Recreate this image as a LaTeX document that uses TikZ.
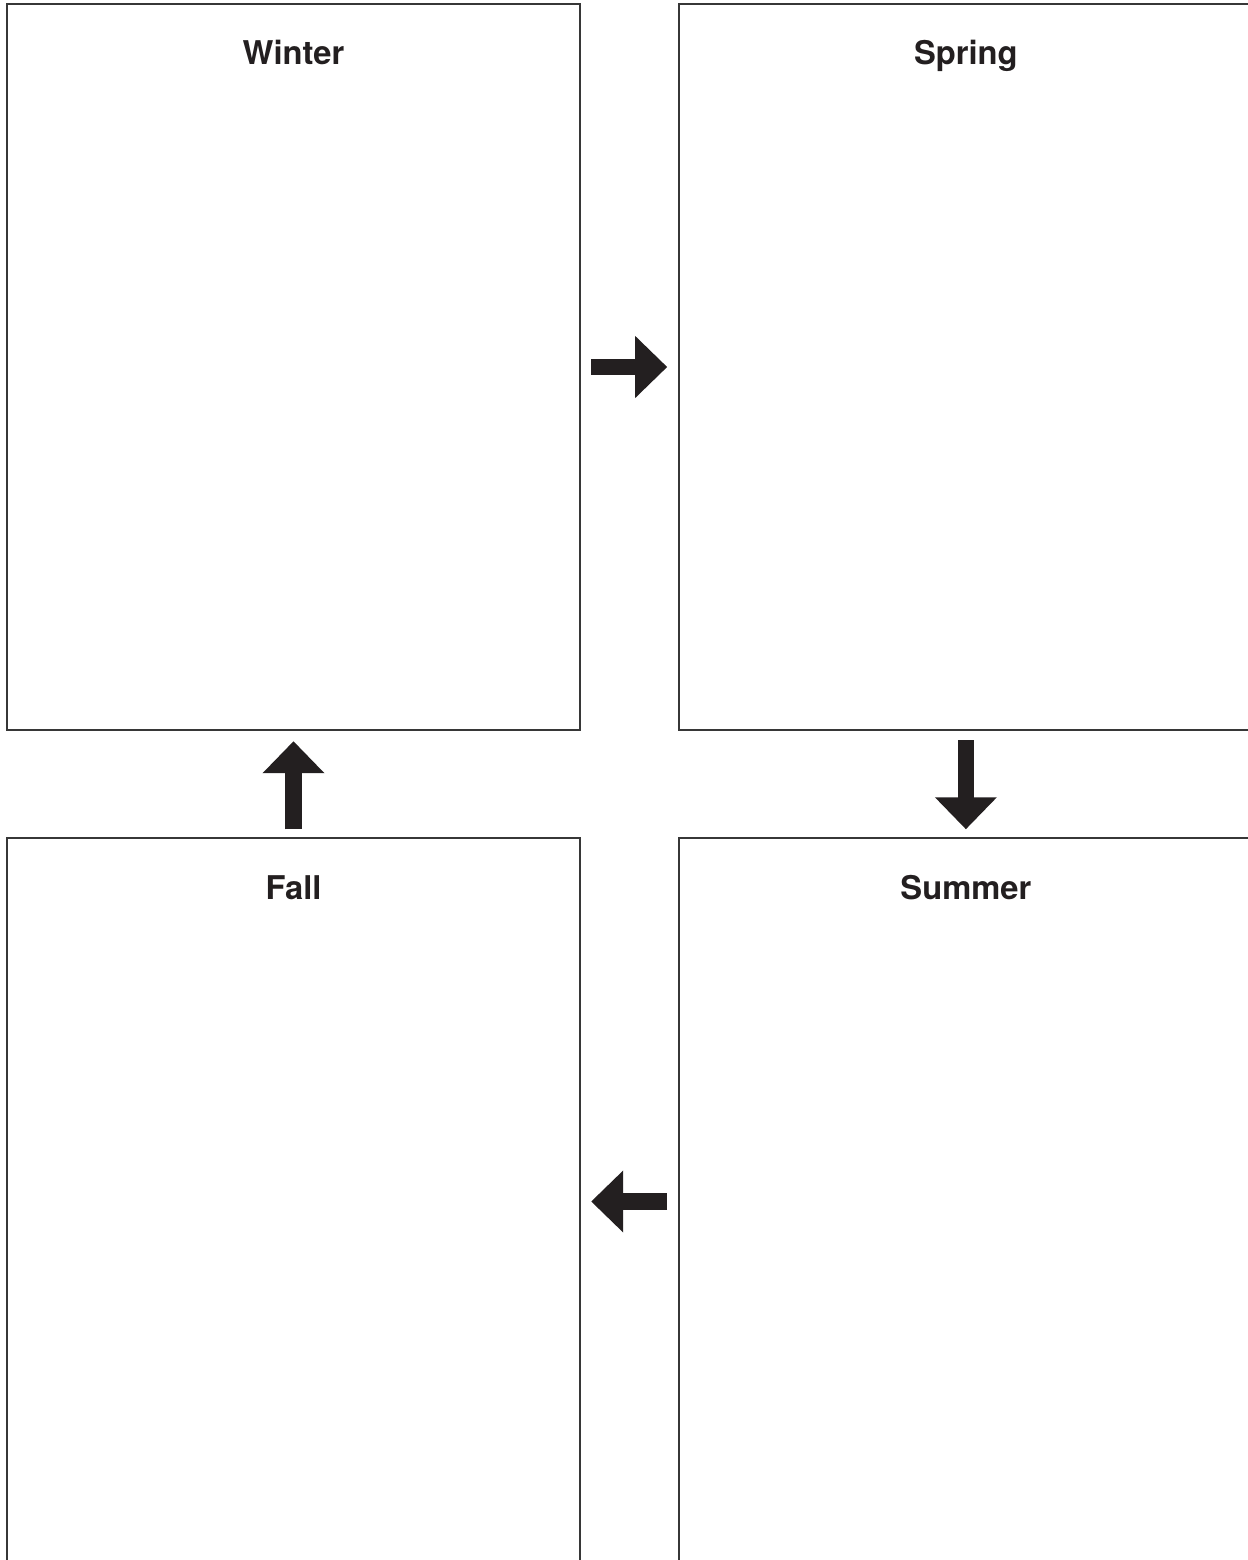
\documentclass[tikz,border=0pt]{standalone}
\usepackage{fontspec}
\setmainfont{TeX Gyre Heros}
\usetikzlibrary{positioning,arrows.meta,calc}
\definecolor{ink}{RGB}{35,31,32}
\definecolor{frame}{RGB}{55,55,55}

\begin{document}
\begin{tikzpicture}[x=0.01cm,y=-0.01cm,
  season/.style={draw=frame,line width=0.5pt,minimum width=5.73cm,
    minimum height=7.26cm,inner sep=0pt,outer sep=0pt},
  title/.style={font=\bfseries\fontsize{9.3}{11}\selectfont,text=ink,anchor=base},
  turn/.style={draw=ink,line width=0.16cm,-{Triangle[length=0.32cm,width=0.6cm]}}]
\useasboundingbox (0,0) rectangle (1248,1560);
% the four boxes
\node[season] (winter) at (293.5,367) {};
\node[season,right=0.99cm of winter] (spring) {};
\node[season,below=1.08cm of spring] (summer) {};
\node[season,below=1.08cm of winter] (fall) {};
% titles
\foreach \n/\t in {winter/Winter,spring/Spring,summer/Summer,fall/Fall}
  \node[title] (\n-title) at ($(\n.north)+(0,61)$) {\t};
% the cycle
\draw[turn] ($(winter.east)+(11,0)$) -- ($(spring.west)+(-12,0)$);
\draw[turn] ($(spring.south)+(0,10)$) -- ($(summer.north)+(0,-9)$);
\draw[turn] ($(summer.west)+(-12,0)$) -- ($(fall.east)+(11,0)$);
\draw[turn] ($(fall.north)+(0,-9)$) -- ($(winter.south)+(0,11)$);
\end{tikzpicture}
\end{document}
